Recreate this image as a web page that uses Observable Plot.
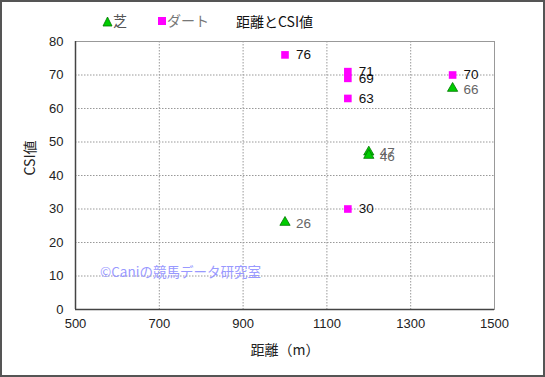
<!DOCTYPE html>
<html><head><meta charset="utf-8">
<script src="https://cdn.jsdelivr.net/npm/d3@7"></script>
<script src="https://cdn.jsdelivr.net/npm/@observablehq/plot@0.6"></script>
<style>
html,body{margin:0;padding:0;background:#fff;}
#wrap{position:relative;width:545px;height:377px;overflow:hidden;font-family:"Liberation Sans","Noto Sans CJK JP",sans-serif;}
#border{position:absolute;left:0;top:0;width:541px;height:373px;border:2px solid #555;pointer-events:none;}
.ov{position:absolute;white-space:nowrap;}
</style></head>
<body><div id="wrap"></div>
<script>
const shibaDist = [1000, 1200, 1200, 1400];
const shibaCSI  = [26, 47, 46, 66];
const dirtDist  = [1000, 1150, 1150, 1150, 1150, 1400];
const dirtCSI   = [76, 71, 69, 63, 30, 70];
const xTicks = [500, 700, 900, 1100, 1300, 1500];
const yTicks = [0, 10, 20, 30, 40, 50, 60, 70, 80];
const seriesNames = ["芝", "ダート"];
const title = "距離とCSI値";
const xLabel = "距離（m）";
const yLabel = "CSI値";
const watermark = "©Caniの競馬データ研究室";

const shiba = shibaDist.map((d, i) => ({dist: d, csi: shibaCSI[i]}));
const dirt = dirtDist.map((d, i) => ({dist: d, csi: dirtCSI[i]}));

const chart = Plot.plot({
  width: 545, height: 377,
  marginLeft: 75, marginRight: 51, marginTop: 41, marginBottom: 68,
  style: {fontFamily: '"Liberation Sans", "Noto Sans CJK JP", sans-serif', fontSize: "13px", background: "transparent", color: "#222"},
  x: {domain: [500, 1500], ticks: xTicks, label: null},
  y: {domain: [0, 80], ticks: yTicks, label: null},
  marks: [
    Plot.gridX(xTicks, {stroke: "#999", strokeOpacity: 1, strokeDasharray: "1.5,1.5"}),
    Plot.gridY(yTicks, {stroke: "#999", strokeOpacity: 1, strokeDasharray: "1.5,1.5"}),
    Plot.frame({stroke: "#999"}),
    Plot.ruleX([500], {stroke: "#444", strokeWidth: 1.5}),
    Plot.ruleY([0], {stroke: "#444", strokeWidth: 1.5}),
    Plot.axisX({ticks: xTicks, tickSize: 0, tickPadding: 9, fontSize: 13, label: null, tickFormat: d3.format("d")}),
    Plot.axisY({ticks: yTicks, tickSize: 0, tickPadding: 12, fontSize: 13, label: null, tickFormat: d3.format("d")}),
    Plot.text([xLabel], {frameAnchor: "bottom", dy: 45, fontSize: 14, fontFamily: '"Noto Sans CJK JP", sans-serif', fill: "#222"}),
    Plot.text([yLabel], {frameAnchor: "left", dx: -45, rotate: -90, fontSize: 14, fontFamily: '"Noto Sans CJK JP", sans-serif', fill: "#222"}),
    Plot.dot(dirt, {x: "dist", y: "csi", symbol: "square", r: 4.3, fill: "#ff00ff", stroke: "none"}),
    Plot.text(dirt, {x: "dist", y: "csi", text: d => String(d.csi), textAnchor: "start", dx: 11, fontSize: 13.5, fill: "#111"}),
    Plot.dot(shiba, {x: "dist", y: "csi", symbol: "triangle", r: 3.8, fill: "#00cc00", stroke: "#007700", strokeWidth: 0.8}),
    Plot.text(shiba, {x: "dist", y: "csi", text: d => String(d.csi), textAnchor: "start", dx: 11, dy: 1, fontSize: 13.5, fill: "#666"})
  ]
});
const wrap = document.getElementById("wrap");
wrap.appendChild(chart);

function ov(html, css) {
  const d = document.createElement("div");
  d.className = "ov";
  d.innerHTML = html;
  d.style.cssText += css;
  wrap.appendChild(d);
}
ov(`<svg width="11" height="11" style="vertical-align:-1px"><path d="M5.5,1 L10,10 L1,10 Z" fill="#00cc00" stroke="#007700" stroke-width="0.8"/></svg>${seriesNames[0]}`,
   "left:102px;top:10px;font-size:14px;color:#555;font-family:'Noto Sans CJK JP',sans-serif;");
ov(`<svg width="10" height="10" style="vertical-align:0px"><rect x="1" y="1" width="8" height="8" fill="#ff00ff"/></svg>${seriesNames[1]}`,
   "left:157px;top:10px;font-size:14px;color:#777;font-family:'Noto Sans CJK JP',sans-serif;");
ov(title, "left:236px;top:11px;font-size:14px;color:#111;font-family:'Noto Sans CJK JP',sans-serif;");
ov(watermark, "left:100px;top:261px;font-size:13.5px;color:#9999ff;font-family:'Noto Sans CJK JP',sans-serif;");
const b = document.createElement("div"); b.id = "border"; wrap.appendChild(b);
</script></body></html>
